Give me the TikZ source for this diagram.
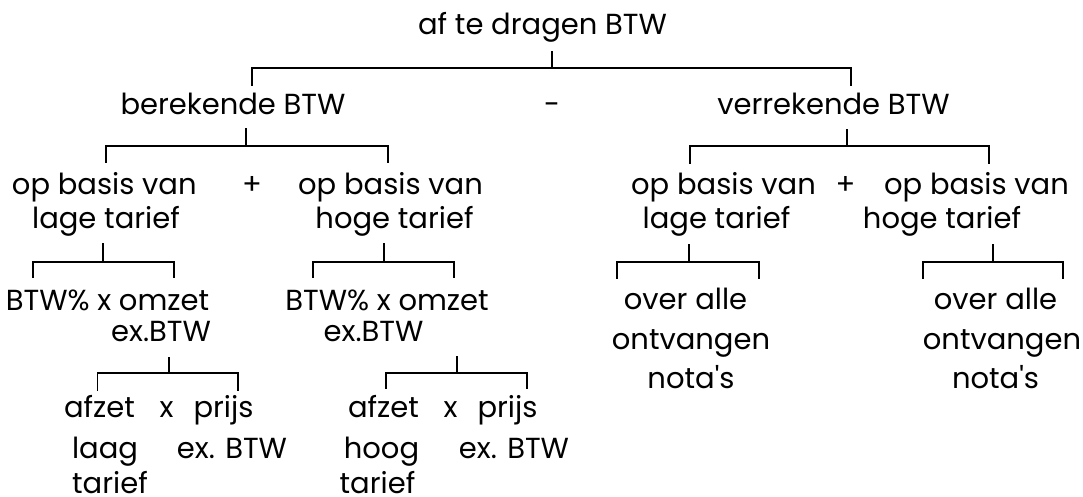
\documentclass[tikz,border=0pt]{standalone}
\usepackage{fontspec}
\setmainfont{Poppins}[Ligatures=TeXOff]
\begin{document}
\begin{tikzpicture}[x=1pt,y=-1pt,
  lbl/.style={inner sep=0pt, anchor=base, font=\fontsize{29}{34}\selectfont},
  bracket/.style={line width=1.8pt, line cap=rect}]
\useasboundingbox (0,0) rectangle (1083,497);

% ---- labels (placed on their baselines) ----
\node[lbl] (top) at (542.5,35) {af te dragen BTW};
\node[lbl] (ber) at (233,115) {berekende BTW};
\node[lbl] (minus) at (552,115) {-};
\node[lbl] (ver) at (833.5,115) {verrekende BTW};

\node[lbl] (bl1) at (104.3,194) {op basis van};
\node[lbl] (bl2) at (106,228) {lage tarief};
\node[lbl] (plusl) at (252,194) {+};
\node[lbl] (bh1) at (390.5,194) {op basis van};
\node[lbl] (bh2) at (394.5,228) {hoge tarief};

\node[lbl] (vl1) at (723.5,194) {op basis van};
\node[lbl] (vl2) at (716.5,228) {lage tarief};
\node[lbl] (plusr) at (845.5,194) {+};
\node[lbl] (vh1) at (976.5,194) {op basis van};
\node[lbl] (vh2) at (942,228) {hoge tarief};

\node[lbl] (pl1) at (107.5,310) {BTW\% x omzet};
\node[lbl] (pl2) at (161,341) {ex.BTW};
\node[lbl] (ph1) at (387,310) {BTW\% x omzet};
\node[lbl] (ph2) at (373.5,341) {ex.BTW};

\node[lbl] (al) at (99.5,417) {afzet};
\node[lbl] (xl) at (166.5,417) {x};
\node[lbl] (prl) at (223.5,417) {prijs};
\node[lbl] (laag) at (105,458) {laag};
\node[lbl] (exl) at (232,458) {ex. BTW};
\node[lbl] (tl) at (110,493) {tarief};

\node[lbl] (ah) at (383.5,417) {afzet};
\node[lbl] (xh) at (450.5,417) {x};
\node[lbl] (prh) at (507.5,417) {prijs};
\node[lbl] (hoog) at (381.5,458) {hoog};
\node[lbl] (exh) at (514,458) {ex. BTW};
\node[lbl] (th) at (377.5,493) {tarief};

\node[lbl] (ol1) at (685.5,309) {over alle};
\node[lbl] (ol2) at (691,349) {ontvangen};
\node[lbl] (ol3) at (691,388.5) {nota's};
\node[lbl] (oh1) at (995.5,309) {over alle};
\node[lbl] (oh2) at (1002,349) {ontvangen};
\node[lbl] (oh3) at (995.5,388.5) {nota's};

% ---- brackets: stem top, junction level, left and right leg ends ----
\foreach \n/\sx/\sy/\hy/\lx/\rx/\by in {
  b0/552/52/68/252/851/85,
  b1/246/129/146/106/388/162,
  b2/847/130/146/690/989/163,
  b3/102.6/244/261.6/32.7/174/277,
  b4/384/244/261.6/313/454/277,
  b5/689/245/262/617/759/278,
  b6/993/245/262/923/1063/278,
  b7/169/358/373/97.5/238/390,
  b8/456.7/357/373/385.7/527/388}{
  \coordinate (\n-s) at (\sx,\sy);
  \coordinate (\n-h) at (\sx,\hy);
  \coordinate (\n-l) at (\lx,\by);
  \coordinate (\n-r) at (\rx,\by);
  \draw[bracket] (\n-s) -- (\n-h);
  \draw[bracket] (\n-l) |- (\n-h) -| (\n-r);
}
\end{tikzpicture}
\end{document}
